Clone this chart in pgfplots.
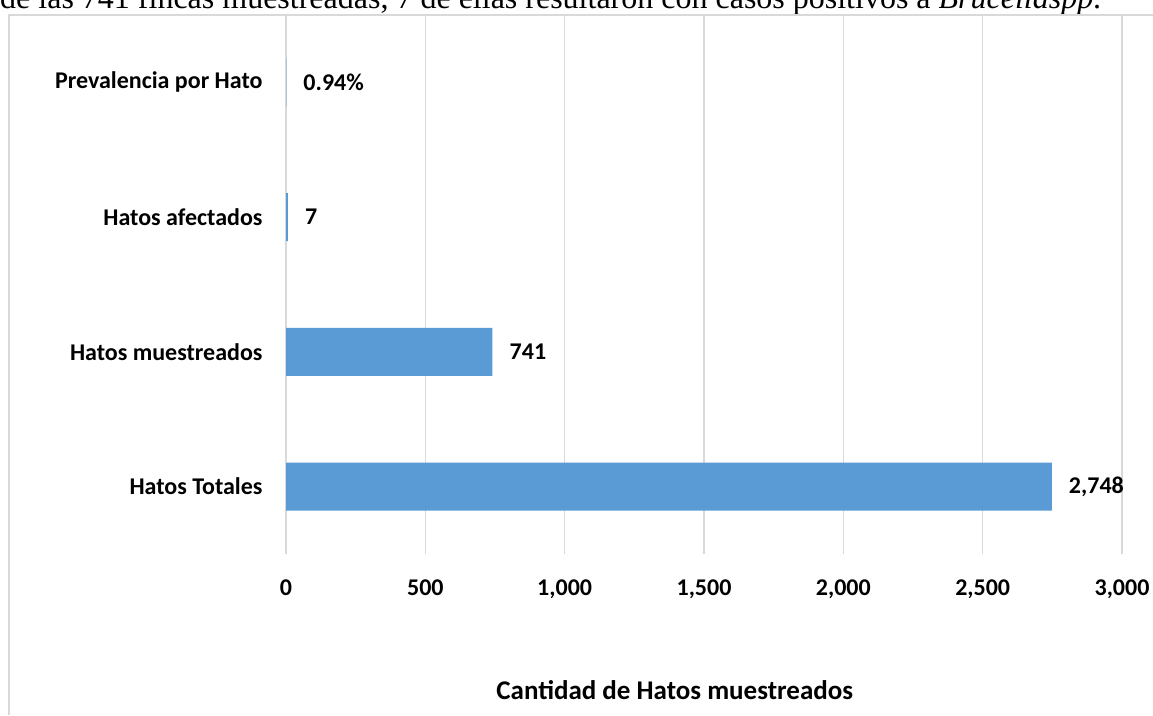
\documentclass[border=0pt]{standalone}
\usepackage{fontspec}
\setmainfont{Carlito}
\newfontfamily\seriffont{Liberation Serif}
\usepackage{pgfplots}
\pgfplotsset{compat=1.18}
\definecolor{barblue}{HTML}{5B9BD5}
\definecolor{gridgray}{HTML}{D9D9D9}
\begin{document}
\begin{tikzpicture}[x=1pt,y=1pt]
\path[use as bounding box] (0,0) rectangle (1153,715);
\node[anchor=base west, inner sep=0, font=\seriffont\fontsize{32}{36}\selectfont] at (0,706) {de las 741 fincas muestreadas, 7 de ellas resultaron con casos positivos a \textit{Brucellaspp}.};
\draw[gridgray, line width=1.5pt] (9,0) -- (9,700) -- (1160,700);
\begin{axis}[
  at={(286pt,161pt)}, anchor=south west,
  xbar, scale only axis, width=836pt, height=539pt,
  xmin=0, xmax=3000, ymin=-0.5, ymax=3.5,
  ytick={0,1,2,3},
  yticklabels={Hatos Totales, Hatos muestreados, Hatos afectados, Prevalencia por Hato},
  xtick={0,500,1000,1500,2000,2500,3000},
  /pgf/number format/1000 sep={,},
  /pgf/number format/assume math mode=true,
  xmajorgrids, grid style={draw=gridgray, line width=1.5pt},
  axis line style={draw=none},
  major tick length=0pt,
  tick label style={font=\bfseries\fontsize{24}{28}\selectfont},
  yticklabel style={xshift=-20pt},
  xticklabel style={yshift=-22pt},
  bar width=48pt,
  nodes near coords,
  point meta=explicit symbolic,
  every node near coord/.append style={font=\bfseries\fontsize{24}{28}\selectfont, anchor=west, inner sep=0pt, xshift=17pt},
  xlabel={Cantidad de Hatos muestreados},
  xlabel style={font=\bfseries\fontsize{27}{32}\selectfont, at={(rel axis cs:0.465,0)}, anchor=center, yshift=-136pt},
]
\addplot[fill=barblue, draw=none] coordinates {
  (2748,0) [2{,}748]
  (741,1) [741]
  (7,2) [7]
  (0.94,3) [0.94\%]
};
\end{axis}
\end{tikzpicture}
\end{document}
